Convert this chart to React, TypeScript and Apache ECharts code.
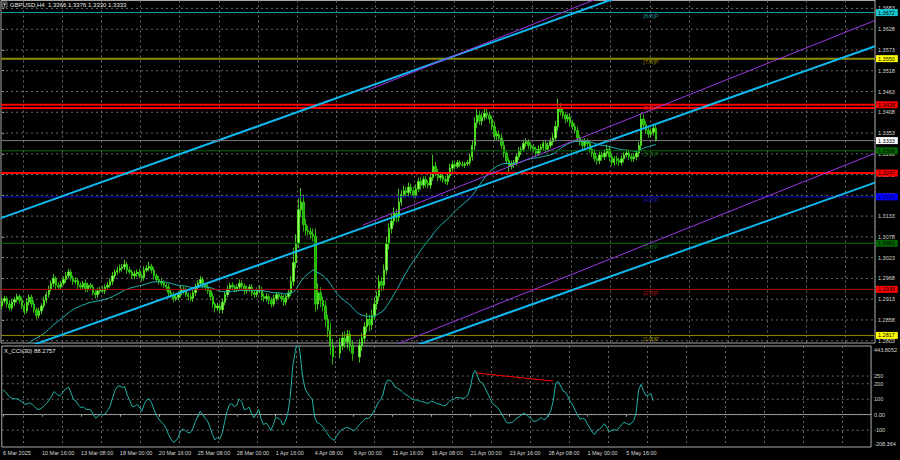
import React, { useEffect, useRef } from "react";
import * as echarts from "echarts";

// ---------- DATA ----------
// 4H bars before the visible window (27 Feb - 5 Mar), used only to warm up the indicators
const preCloses = [
  1.2665, 1.2670, 1.2650, 1.2630, 1.2615, 1.2600,
  1.2605, 1.2595, 1.2590, 1.2580, 1.2570, 1.2575,
  1.2590, 1.2610, 1.2640, 1.2660, 1.2680, 1.2690,
  1.2700, 1.2710, 1.2730, 1.2760, 1.2770, 1.2780,
  1.2785, 1.2800, 1.2830, 1.2860, 1.2890, 1.2895,
];
const firstOpen = 1.2660;

// visible 4H closes, 6 Mar 00:00 .. 7 May 12:00
const closes = [
  1.2908, 1.2915, 1.2900, 1.2890, 1.2905, 1.2912, // 6 Mar
  1.2920, 1.2910, 1.2895, 1.2882, 1.2905, 1.2918, // 7 Mar
  1.2900, 1.2885, 1.2870, 1.2882, 1.2895, 1.2910, // 10 Mar
  1.2925, 1.2940, 1.2955, 1.2968, 1.2950, 1.2945, // 11 Mar
  1.2955, 1.2965, 1.2975, 1.2985, 1.2970, 1.2960, // 12 Mar
  1.2962, 1.2950, 1.2945, 1.2955, 1.2940, 1.2950, // 13 Mar
  1.2945, 1.2930, 1.2925, 1.2935, 1.2940, 1.2935, // 14 Mar
  1.2945, 1.2950, 1.2960, 1.2975, 1.2985, 1.2990, // 17 Mar
  1.2995, 1.2998, 1.3005, 1.2990, 1.2985, 1.2975, // 18 Mar
  1.2980, 1.2985, 1.2975, 1.2970, 1.2990, 1.2995, // 19 Mar
  1.3000, 1.2990, 1.2975, 1.2965, 1.2960, 1.2955, // 20 Mar
  1.2950, 1.2945, 1.2930, 1.2925, 1.2915, 1.2918, // 21 Mar
  1.2925, 1.2940, 1.2935, 1.2925, 1.2920, 1.2915, // 24 Mar
  1.2930, 1.2945, 1.2955, 1.2965, 1.2950, 1.2945, // 25 Mar
  1.2935, 1.2920, 1.2900, 1.2890, 1.2895, 1.2885, // 26 Mar
  1.2905, 1.2925, 1.2940, 1.2950, 1.2945, 1.2940, // 27 Mar
  1.2945, 1.2955, 1.2948, 1.2935, 1.2940, 1.2945, // 28 Mar
  1.2930, 1.2925, 1.2935, 1.2940, 1.2920, 1.2915, // 31 Mar
  1.2920, 1.2910, 1.2900, 1.2915, 1.2925, 1.2920, // 1 Apr
  1.2915, 1.2905, 1.2920, 1.2930, 1.2960, 1.3010, // 2 Apr
  1.3060, 1.3150, 1.3170, 1.3110, 1.3095, 1.3092, // 3 Apr
  1.3085, 1.3080, 1.2900, 1.2930, 1.2910, 1.2895, // 4 Apr
  1.2860, 1.2830, 1.2790, 1.2760, 1.2740, 1.2770, // 7 Apr
  1.2790, 1.2810, 1.2800, 1.2820, 1.2790, 1.2770, // 8 Apr
  1.2740, 1.2760, 1.2790, 1.2810, 1.2840, 1.2860, // 9 Apr
  1.2845, 1.2870, 1.2900, 1.2920, 1.2960, 1.2950, // 10 Apr
  1.2990, 1.3060, 1.3100, 1.3120, 1.3140, 1.3130, // 11 Apr
  1.3170, 1.3190, 1.3200, 1.3195, 1.3210, 1.3200, // 14 Apr
  1.3190, 1.3205, 1.3225, 1.3215, 1.3230, 1.3220, // 15 Apr
  1.3215, 1.3235, 1.3265, 1.3250, 1.3235, 1.3240, // 16 Apr
  1.3230, 1.3225, 1.3240, 1.3260, 1.3270, 1.3265, // 17 Apr
  1.3275, 1.3270, 1.3268, 1.3272, 1.3275, 1.3290, // 18 Apr
  1.3320, 1.3380, 1.3400, 1.3385, 1.3395, 1.3405, // 21 Apr
  1.3400, 1.3390, 1.3370, 1.3345, 1.3350, 1.3340, // 22 Apr
  1.3320, 1.3300, 1.3280, 1.3265, 1.3270, 1.3275, // 23 Apr
  1.3290, 1.3305, 1.3310, 1.3325, 1.3330, 1.3320, // 24 Apr
  1.3315, 1.3310, 1.3300, 1.3310, 1.3315, 1.3325, // 25 Apr
  1.3310, 1.3320, 1.3330, 1.3340, 1.3370, 1.3420, // 28 Apr
  1.3410, 1.3400, 1.3390, 1.3395, 1.3380, 1.3370, // 29 Apr
  1.3360, 1.3340, 1.3330, 1.3320, 1.3330, 1.3325, // 30 Apr
  1.3310, 1.3300, 1.3285, 1.3280, 1.3295, 1.3290, // 1 May
  1.3300, 1.3310, 1.3290, 1.3275, 1.3285, 1.3280, // 2 May
  1.3275, 1.3285, 1.3295, 1.3300, 1.3290, 1.3285, // 5 May
  1.3290, 1.3300, 1.3320, 1.3390, 1.3375, 1.3360, // 6 May
  1.3350, 1.3355, 1.3366, 1.3333,                 // 7 May
];

// wick lengths above / below the body, in pips (pre-window bars first)
const upperWickPips = [
  8, 6, 10, 5, 7, 9, 6, 8, 5, 7, 9, 6, 5, 8, 10, 7, 6, 9, 8, 5, 7, 10, 6, 8, 7, 9, 6, 8, 10, 12,
  9, 7, 6, 10, 8, 7,   8, 6, 9, 7, 10, 8,   7, 9, 6, 8, 7, 10,   8, 9, 7, 12, 6, 8,
  7, 8, 10, 9, 7, 6,   9, 6, 8, 7, 10, 7,   6, 8, 7, 9, 6, 8,    7, 9, 8, 10, 7, 9,
  10, 8, 12, 7, 9, 6,  8, 7, 9, 6, 10, 8,   12, 7, 8, 6, 9, 7,   8, 6, 9, 7, 8, 10,
  9, 8, 7, 10, 6, 8,   7, 9, 8, 10, 7, 6,   8, 7, 9, 6, 8, 7,    9, 8, 10, 7, 8, 6,
  7, 10, 8, 6, 9, 7,   8, 7, 9, 10, 6, 8,   9, 7, 8, 10, 7, 6,   8, 9, 7, 10, 15, 40,
  25, 30, 37, 20, 15, 12, 10, 15, 20, 25, 15, 10, 15, 12, 20, 18, 15, 25, 20, 15, 18, 12, 10, 14,
  15, 20, 18, 14, 12, 16, 12, 15, 18, 14, 16, 12, 15, 18, 14, 20, 16, 12, 35, 12, 14, 10, 12, 9,
  10, 12, 9, 11, 8, 10, 9, 11, 30, 12, 8, 10,   8, 10, 9, 12, 10, 8,   7, 6, 8, 5, 7, 9,
  12, 15, 20, 12, 10, 12, 13, 10, 9, 12, 8, 10, 10, 12, 9, 8, 10, 7,  9, 11, 8, 10, 9, 7,
  8, 9, 7, 10, 8, 9,   9, 8, 10, 12, 15, 24,  12, 10, 8, 9, 11, 8,   9, 10, 8, 7, 9, 8,
  8, 9, 10, 7, 9, 8,   10, 12, 9, 8, 7, 9,   8, 9, 7, 10, 8, 9,    9, 8, 10, 15, 12, 10,
  9, 10, 8, 10,
];
const lowerWickPips = [
  7, 9, 5, 8, 6, 10, 8, 6, 9, 5, 7, 8, 6, 9, 7, 5, 8, 6, 9, 7, 5, 8, 6, 7, 8, 6, 9, 7, 5, 10,
  8, 6, 9, 7, 8, 10,   7, 9, 8, 10, 6, 8,   9, 8, 10, 7, 9, 6,   7, 8, 6, 9, 10, 7,
  8, 6, 9, 7, 8, 9,    7, 10, 8, 6, 9, 8,   9, 7, 10, 8, 7, 6,   8, 7, 6, 9, 8, 7,
  7, 9, 8, 10, 6, 9,   9, 8, 7, 10, 8, 6,   8, 9, 10, 7, 9, 8,   7, 10, 9, 8, 10, 7,
  8, 7, 9, 6, 10, 8,   9, 8, 7, 6, 9, 10,   8, 10, 9, 12, 8, 10,  10, 8, 7, 9, 8, 9,
  8, 7, 9, 10, 7, 8,   9, 8, 7, 6, 10, 9,   8, 10, 9, 7, 8, 9,    9, 10, 8, 7, 8, 12,
  15, 12, 20, 18, 14, 10, 12, 14, 20, 15, 18, 14, 20, 18, 25, 20, 30, 15, 14, 12, 16, 18, 15, 20,
  30, 18, 15, 14, 12, 15, 18, 14, 12, 15, 12, 16, 14, 12, 15, 13, 12, 14, 12, 10, 9, 12, 10, 11,
  9, 10, 8, 12, 9, 10,  8, 10, 9, 12, 10, 8,  9, 8, 10, 7, 9, 8,   6, 8, 5, 7, 6, 8,
  10, 12, 14, 10, 12, 9, 10, 12, 9, 11, 10, 8, 10, 12, 9, 15, 8, 10, 9, 8, 10, 7, 9, 10,
  8, 9, 10, 8, 9, 7,   9, 8, 7, 10, 9, 12,  10, 9, 11, 8, 10, 9,   8, 9, 10, 12, 8, 9,
  9, 10, 8, 11, 9, 10,  8, 10, 12, 9, 8, 10, 9, 8, 10, 7, 9, 8,    8, 9, 10, 12, 10, 9,
  10, 8, 9, 3,
];

// axis ticks
const priceTicks = [
  1.2803, 1.2858, 1.2913, 1.2968, 1.3023, 1.3078, 1.3133, 1.3188, 1.3243,
  1.3298, 1.3353, 1.3408, 1.3463, 1.3518, 1.3573, 1.3628, 1.3683,
];
const priceMin = 1.2797;
const priceMax = 1.3704;
const timeLabels = [
  "6 Mar 2025", "10 Mar 16:00", "13 Mar 08:00", "18 Mar 00:00", "20 Mar 16:00",
  "25 Mar 08:00", "28 Mar 00:00", "1 Apr 16:00", "4 Apr 08:00", "9 Apr 00:00",
  "11 Apr 16:00", "16 Apr 08:00", "21 Apr 00:00", "23 Apr 16:00", "28 Apr 08:00",
  "1 May 00:00", "5 May 16:00",
];
const barsPerLabel = 16;
const totalSlots = 357;
const cciTicks = [443.8052, 250, 200, 100, 0, -100, -208.364];
const cciTickLabels = ["443.8052", "250", "200", "100", "0.00", "-100", "-208.364"];
const cciGridLevels = [250, 200, 100, 0, -100];
const cciMin = -208.364;
const cciMax = 443.8052;

// Murrey math levels
const murreyLevels = [1.3672, 1.3550, 1.3428, 1.3306, 1.3184, 1.3061, 1.2939, 1.2817];
const murreyNames = ["[8/8]P", "[7/8]P", "[6/8]P", "[5/8]P", "[4/8]P", "[3/8]P", "[2/8]P", "[1/8]P"];
const murreyLabelBar = 262;
// other horizontal lines
const redLevels = [1.3419, 1.3247];
const bidPrice = 1.3333;

// regression channels: [barIndex, price] anchors
const blueUpper = [[-0.5, 1.31276], [356.5, 1.39559]];
const blueMiddle = [[-0.5, 1.27616], [356.5, 1.3583]];
const blueLower = [[-0.5, 1.24004], [356.5, 1.32218]];
const purpleUpper = [[148.2, 1.34634], [356.5, 1.40028]];
const purpleMiddle = [[147.4, 1.31096], [356.5, 1.36511]];
const purpleLower = [[147.4, 1.27579], [356.5, 1.32994]];
// CCI divergence line
const cciDivergence = [[194.5, 269], [225.9, 217.6]];

const titleText = "GBPUSD,H4  1.3366 1.3376 1.3330 1.3333";
const cciTitle = "X_CCI(30) 88.2757";

// ---------- STYLE ----------
const FONT = "'Liberation Sans', Arial, sans-serif";
const GRID_COLOR = "#6a6a6a";
const AXIS_TEXT = "#d8d8d8";
const murreyLineColors = ["#14a8b0", "#8c8c00", "#ff0000", "#007000", "#0000d0", "#007000", "#b40000", "#8c8c00"];
const murreyLineWidths = [1, 2, 2, 1, 1, 1, 1, 1];
const murreyTextColors = ["#20b0b8", "#b8a400", "#ff2020", "#127a12", "#2020d8", "#127a12", "#d81818", "#c0b000"];
const murreyBoxColors = ["#18c6d0", "#ffff00", "#ff0000", "#006400", "#0000ff", "#006400", "#ff0000", "#ffff00"];

function fmt(v: number) {
  return v.toFixed(4);
}

export default function App() {
  const ref = useRef<HTMLDivElement>(null);

  useEffect(() => {
    const el = ref.current;
    if (!el) return;
    const chart = echarts.init(el, null, { renderer: "svg", width: 900, height: 460 });

    const PRE = preCloses.length;
    const allCloses = [...preCloses, ...closes];
    const n = allCloses.length;
    const opens = allCloses.map((c, i) => (i === 0 ? firstOpen : allCloses[i - 1]));
    const highs = allCloses.map((c, i) => Math.max(opens[i], c) + (upperWickPips[i] ?? 0) / 10000);
    const lows = allCloses.map((c, i) => Math.min(opens[i], c) - (lowerWickPips[i] ?? 0) / 10000);

    // smoothed MA (20)
    const P = 20;
    const smma: number[] = [];
    for (let i = 0; i < n; i++) {
      if (i < P - 1) smma.push(NaN);
      else if (i === P - 1) {
        let s = 0;
        for (let j = 0; j < P; j++) s += allCloses[j];
        smma.push(s / P);
      } else smma.push((smma[i - 1] * (P - 1) + allCloses[i]) / P);
    }
    // CCI (30)
    const C = 30;
    const tp = allCloses.map((c, i) => (highs[i] + lows[i] + c) / 3);
    const cci: number[] = [];
    for (let i = 0; i < n; i++) {
      if (i < C - 1) {
        cci.push(NaN);
        continue;
      }
      let s = 0;
      for (let j = i - C + 1; j <= i; j++) s += tp[j];
      const m = s / C;
      let d = 0;
      for (let j = i - C + 1; j <= i; j++) d += Math.abs(tp[j] - m);
      d /= C;
      cci.push(d === 0 ? 0 : (tp[i] - m) / (0.015 * d));
    }

    const candles: number[][] = [];
    const maData: number[] = [];
    const cciData: number[] = [];
    for (let i = PRE; i < n; i++) {
      candles.push([opens[i], allCloses[i], lows[i], highs[i]]);
      maData.push(+smma[i].toFixed(5));
      cciData.push(+cci[i].toFixed(2));
    }

    const cats = Array.from({ length: totalSlots }, (_, i) => String(i));
    const vSplit = (index: number) => index % barsPerLabel === 9;
    const dashed = { color: GRID_COLOR, type: [2, 3] as any, width: 1 };
    const xL = -0.5;
    const xR = totalSlots - 0.5;

    // horizontal dashed grid lines drawn as broken line series on the hidden value x-axes
    const gridLines = (levels: number[], xAxisIndex: number, yAxisIndex: number) => {
      const data: any[] = [];
      levels.forEach((v) => {
        data.push([xL, v], [xR, v], "-");
      });
      return {
        type: "line", xAxisIndex, yAxisIndex, data, symbol: "none", silent: true, z: 1,
        connectNulls: false, lineStyle: dashed,
      };
    };

    const level = (v: number, color: string, width: number, box: string | null, textColor = "#000", z = 4) => ({
      type: "line",
      xAxisIndex: 2,
      yAxisIndex: 0,
      data: [[xL, v], [xR, v]],
      symbol: "none",
      silent: true,
      z,
      lineStyle: { color, width },
      endLabel: box
        ? {
            show: true,
            distance: 1,
            formatter: fmt(v),
            backgroundColor: box,
            color: textColor,
            fontSize: 5.5,
            fontFamily: FONT,
            padding: [1, 3, 0, 2],
          }
        : { show: false },
    });

    const trend = (data: number[][], color: string, width: number) => ({
      type: "line",
      xAxisIndex: 2,
      yAxisIndex: 0,
      data,
      symbol: "none",
      silent: true,
      z: 5,
      lineStyle: { color, width },
    });

    const option: any = {
      animation: false,
      backgroundColor: "#000000",
      textStyle: { fontFamily: FONT },
      grid: [
        { left: 1, top: 0.5, width: 874, height: 342.5, show: true, borderColor: "#a8a8a8", borderWidth: 1 },
        { left: 1, top: 346, width: 874, height: 101, show: true, borderColor: "#a8a8a8", borderWidth: 1 },
      ],
      xAxis: [
        {
          type: "category", gridIndex: 0, data: cats, boundaryGap: true,
          axisLine: { show: false }, axisTick: { show: false }, axisLabel: { show: false },
          splitLine: { show: true, interval: vSplit, lineStyle: dashed },
        },
        {
          type: "category", gridIndex: 1, data: cats, boundaryGap: true,
          axisLine: { show: true, lineStyle: { color: "#a8a8a8" } },
          axisTick: {
            show: true, alignWithLabel: true, length: 2, lineStyle: { color: "#a8a8a8" },
            interval: (i: number) => i % barsPerLabel === 0 && i / barsPerLabel < timeLabels.length,
          },
          axisLabel: {
            show: true, color: AXIS_TEXT, fontSize: 5.5, fontFamily: FONT, margin: 3, align: "left",
            interval: (i: number) => i % barsPerLabel === 0 && i / barsPerLabel < timeLabels.length,
            formatter: (_v: string, i: number) => timeLabels[i / barsPerLabel] ?? "",
          },
          splitLine: { show: true, interval: vSplit, lineStyle: dashed },
        },
        { type: "value", gridIndex: 0, min: xL, max: xR, show: false },
        { type: "value", gridIndex: 1, min: xL, max: xR, show: false },
      ],
      yAxis: [
        {
          type: "value", gridIndex: 0, position: "right", min: priceMin, max: priceMax,
          splitLine: { show: false }, axisLine: { show: false },
          axisTick: { show: true, customValues: priceTicks, length: 2, lineStyle: { color: "#a8a8a8" } },
          axisLabel: {
            show: true, customValues: priceTicks, formatter: (v: number) => fmt(v),
            color: AXIS_TEXT, fontSize: 5.5, fontFamily: FONT, margin: 3,
          },
        },
        {
          type: "value", gridIndex: 1, position: "right", min: cciMin, max: cciMax,
          splitLine: { show: false }, axisLine: { show: false },
          axisTick: { show: false },
          axisLabel: {
            show: true, customValues: cciTicks, color: AXIS_TEXT, fontSize: 5.5, fontFamily: FONT, margin: 3,
            formatter: (v: number) => {
              const k = cciTicks.findIndex((t) => Math.abs(t - v) < 1e-6);
              const s = k >= 0 ? cciTickLabels[k] : String(v);
              if (k === 0) return "{t|" + s + "}";
              if (k === cciTicks.length - 1) return "{b|" + s + "}";
              return s;
            },
            rich: {
              t: { padding: [7, 0, 0, 0], color: AXIS_TEXT, fontSize: 5.5, fontFamily: FONT },
              b: { padding: [0, 0, 6, 0], color: AXIS_TEXT, fontSize: 5.5, fontFamily: FONT },
            },
          },
        },
      ],
      graphic: [
        { type: "rect", shape: { x: 2, y: 2, width: 5, height: 5 }, style: { fill: "none", stroke: "#9a9a9a", lineWidth: 0.8 }, z: 20 },
        { type: "polygon", shape: { points: [[3, 3.5], [6, 3.5], [4.5, 6]] }, style: { fill: "#e0e0e0" }, z: 20 },
        { type: "text", x: 10, y: 2, style: { text: titleText, fill: "#e8e8e8", fontSize: 6, fontFamily: FONT }, z: 20 },
        { type: "text", x: 4, y: 348, style: { text: cciTitle, fill: "#e8e8e8", fontSize: 6, fontFamily: FONT }, z: 20 },
      ],
      series: [
        gridLines(priceTicks, 2, 0),
        gridLines(cciGridLevels, 3, 1),
        {
          name: "GBPUSD", type: "candlestick", xAxisIndex: 0, yAxisIndex: 0, data: candles, z: 2,
          barWidth: "78%",
          itemStyle: {
            color: "#9aff66", color0: "#1fb000",
            borderColor: "#4ef020", borderColor0: "#36dc10", borderWidth: 0.8,
          },
        },
        {
          name: "SMMA", type: "line", xAxisIndex: 0, yAxisIndex: 0, data: maData, symbol: "none", z: 3,
          lineStyle: { color: "#20b4b4", width: 1 },
        },
        ...murreyLevels.map((v, k) =>
          level(v, murreyLineColors[k], murreyLineWidths[k], murreyBoxColors[k], k === 4 ? "#000060" : "#000")
        ),
        level(redLevels[0], "#ff0000", 2, null),
        level(redLevels[1], "#ff0000", 2, "#ff0000"),
        level(bidPrice, "#7c7c7c", 1, "#ffffff", "#000", 6),
        trend(blueUpper, "#10b8f0", 2),
        trend(blueMiddle, "#10b8f0", 2),
        trend(blueLower, "#10b8f0", 2),
        trend(purpleUpper, "#9a38e6", 1),
        trend(purpleMiddle, "#9a38e6", 1),
        trend(purpleLower, "#9a38e6", 1),
        // Murrey level names
        {
          type: "scatter", xAxisIndex: 2, yAxisIndex: 0, z: 6, silent: true,
          symbolSize: 1, itemStyle: { color: "rgba(0,0,0,0)" },
          data: murreyLevels.map((v, k) => ({
            value: [murreyLabelBar, v],
            label: { color: murreyTextColors[k] },
          })),
          label: {
            show: true, position: [0, 1], align: "left", verticalAlign: "top",
            fontSize: 6, fontFamily: FONT,
            formatter: (p: any) => murreyNames[p.dataIndex],
          },
        },
        {
          name: "CCI", type: "line", xAxisIndex: 1, yAxisIndex: 1, data: cciData, symbol: "none", z: 3,
          lineStyle: { color: "#22b2aa", width: 1 },
        },
        {
          name: "divergence", type: "line", xAxisIndex: 3, yAxisIndex: 1, data: cciDivergence, symbol: "none", z: 4,
          lineStyle: { color: "#ff0000", width: 1 },
        },
      ],
    };

    chart.setOption(option);
    return () => chart.dispose();
  }, []);

  return (
    <div
      ref={ref}
      style={{ position: "fixed", left: 0, top: 0, width: 900, height: 460, background: "#000" }}
    />
  );
}
